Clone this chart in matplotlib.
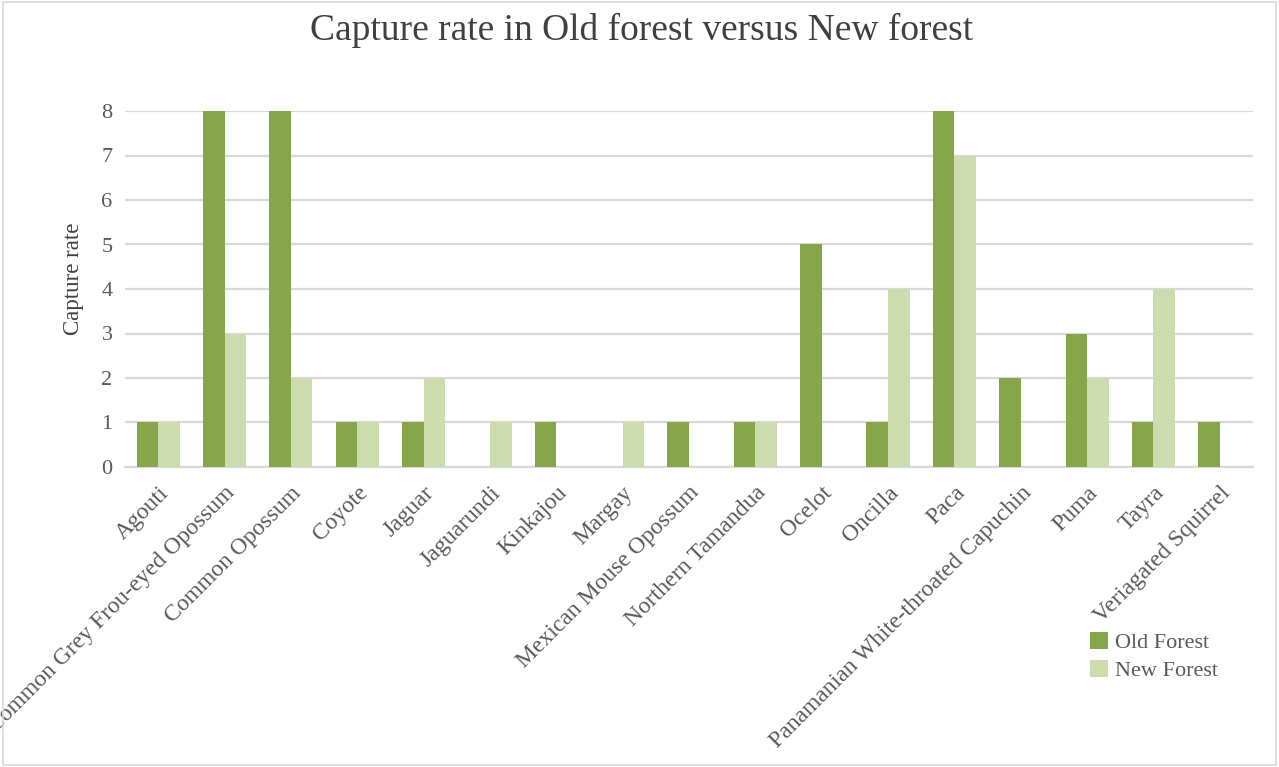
import matplotlib
matplotlib.use("Agg")
import matplotlib.pyplot as plt
import numpy as np
from matplotlib.patches import Rectangle

categories = ["Agouti", "Common Grey Frou-eyed Opossum", "Common Opossum", "Coyote",
              "Jaguar", "Jaguarundi", "Kinkajou", "Margay", "Mexican Mouse Opossum",
              "Northern Tamandua", "Ocelot", "Oncilla", "Paca",
              "Panamanian White-throated Capuchin", "Puma", "Tayra", "Veriagated Squirrel"]
old_forest = [1, 8, 8, 1, 1, 0, 1, 0, 1, 1, 5, 1, 8, 2, 3, 1, 1]
new_forest = [1, 3, 2, 1, 2, 1, 0, 1, 0, 1, 0, 4, 7, 0, 2, 4, 0]
y_ticks = [0, 1, 2, 3, 4, 5, 6, 7, 8]

plt.rcParams['font.family'] = ['Liberation Serif', 'DejaVu Serif']
txt = '#595959'

fig = plt.figure(figsize=(12.79, 7.67), dpi=100)
ax = fig.add_axes([125/1279, 1-467/767, (1253-125)/1279, (467-111)/767])

x = np.arange(len(categories))
w = 0.325
ax.bar(x - w/2, old_forest, w, color='#87A54B', label='Old Forest', zorder=3)
ax.bar(x + w/2, new_forest, w, color='#CDDCAE', label='New Forest', zorder=3)

ax.set_xlim(-0.5, len(categories) - 0.5)
ax.set_ylim(0, 8)
ax.set_yticks(y_ticks)
ax.set_yticklabels([str(v) for v in y_ticks], fontsize=16, color=txt)
ax.set_xticks(x)
ax.set_xticklabels(categories, rotation=45, ha='right', rotation_mode='anchor',
                   fontsize=17, color=txt)
ax.tick_params(axis='y', length=0, pad=9)
ax.tick_params(axis='x', length=0, pad=11)
ax.yaxis.grid(True, color='#D9D9D9', linewidth=1.6, zorder=0)
ax.set_axisbelow(True)
for s in ['top', 'right', 'left']:
    ax.spines[s].set_visible(False)
ax.spines['bottom'].set_color('#D9D9D9')
ax.spines['bottom'].set_linewidth(1.6)

ax.set_ylabel('Capture rate', fontsize=16.5, color='#404040')
ax.yaxis.set_label_coords(-(125-84)/1128, (467-279)/356)
fig.text(642/1279, 1-30/767, 'Capture rate in Old forest versus New forest',
         ha='center', va='center', fontsize=27, color='#404040')

fig.legend(loc='upper left', bbox_to_anchor=(1081/1279, 1-623/767), frameon=False,
           fontsize=16, handlelength=0.8, handleheight=0.8, handletextpad=0.35,
           labelspacing=0.32, borderaxespad=0, labelcolor=txt)

fig.patches.append(Rectangle((0.002, 0.002), 0.996, 0.996, transform=fig.transFigure,
                             fill=False, edgecolor='#D9D9D9', linewidth=1.2))

fig.savefig('out.png', dpi=100)
